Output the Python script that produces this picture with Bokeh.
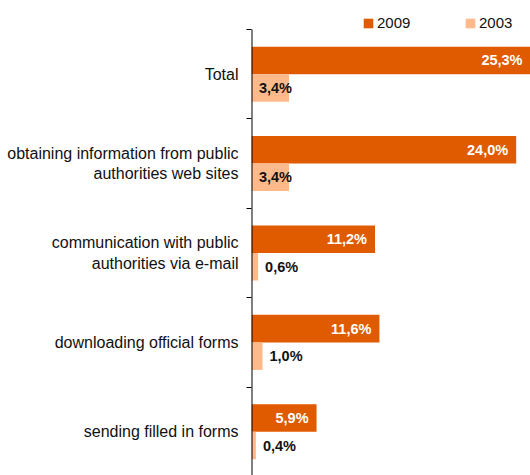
from bokeh.plotting import figure
from bokeh.models import (ColumnDataSource, Range1d, FixedTicker, Legend, LegendItem)
from bokeh.core.properties import value
from bokeh.embed import file_html
from bokeh.resources import INLINE

categories = [
    "Total",
    "obtaining information from public\nauthorities web sites",
    "communication with public\nauthorities via e-mail",
    "downloading official forms",
    "sending filled in forms",
]
values_2009 = [25.3, 24.0, 11.2, 11.6, 5.9]
values_2003 = [3.4, 3.4, 0.6, 1.0, 0.4]
series_names = ["2009", "2003"]

C2009 = "#E05A00"
C2003 = "#FFB98A"
FONT = "Liberation Sans"

n = len(categories)
centers = [i + 0.5 for i in range(n)]
bh = 0.308

def fmt(v):
    return f"{v:.1f}".replace(".", ",") + "%"

src09 = ColumnDataSource(dict(
    y=[c - bh / 2 for c in centers], v=values_2009,
    lab=[fmt(v) for v in values_2009]))
inside03 = [v >= 2 for v in values_2003]
src03_in = ColumnDataSource(dict(
    y=[c + bh / 2 for c, k in zip(centers, inside03) if k],
    v=[v for v, k in zip(values_2003, inside03) if k],
    lab=[fmt(v) for v, k in zip(values_2003, inside03) if k]))
src03_out = ColumnDataSource(dict(
    y=[c + bh / 2 for c, k in zip(centers, inside03) if not k],
    v=[v for v, k in zip(values_2003, inside03) if not k],
    lab=[fmt(v) for v, k in zip(values_2003, inside03) if not k]))
src03 = ColumnDataSource(dict(y=[c + bh / 2 for c in centers], v=values_2003))

p = figure(width=530, height=475, output_backend="svg", toolbar_location=None,
           x_range=Range1d(0, max(values_2009)), y_range=Range1d(n - 0.011, -0.324),
           x_axis_location=None, min_border_left=251, min_border_right=0,
           min_border_top=0, min_border_bottom=0)
p.outline_line_color = None
p.xgrid.visible = False
p.ygrid.visible = False

r09 = p.hbar(y="y", right="v", left=0, height=bh, color=C2009, line_color=None, source=src09)
r03 = p.hbar(y="y", right="v", left=0, height=bh, color=C2003, line_color=None, source=src03)

# category axis line (from first to last category boundary)
p.segment(x0=[0], y0=[0], x1=[0], y1=[n], line_color="black", line_width=2)

p.text(x="v", y="y", text="lab", source=src09, text_align="right", text_baseline="middle",
       x_offset=-8, text_color="white", text_font=value(FONT), text_font_style="bold",
       text_font_size="14.5px")
p.text(x="v", y="y", text="lab", source=src03_in, text_align="right", text_baseline="middle",
       x_offset=3, text_color="#111111", text_font=value(FONT), text_font_style="bold",
       text_font_size="14.5px")
p.text(x="v", y="y", text="lab", source=src03_out, text_align="left", text_baseline="middle",
       x_offset=7, text_color="#111111", text_font=value(FONT), text_font_style="bold",
       text_font_size="14.5px")

ax = p.yaxis[0]
ax.ticker = FixedTicker(ticks=centers, minor_ticks=list(range(n + 1)))
ax.major_label_overrides = {c: lab for c, lab in zip(centers, categories)}
ax.major_tick_line_color = None
ax.major_tick_out = 0
ax.major_tick_in = 0
ax.minor_tick_line_color = "black"
ax.minor_tick_out = 5
ax.minor_tick_in = 0
ax.axis_line_color = None
ax.major_label_standoff = 8
ax.major_label_text_font = FONT
ax.major_label_text_font_size = "16px"
ax.major_label_text_color = "#111111"

legend = Legend(items=[LegendItem(label=series_names[0], renderers=[r09]),
                       LegendItem(label=series_names[1], renderers=[r03])],
                orientation="horizontal", location=(111, 444),
                glyph_width=12, glyph_height=12, label_height=12, label_width=42,
                label_standoff=3, spacing=45, padding=5, margin=0,
                label_text_font=FONT, label_text_font_size="15px", label_text_color="#111111",
                border_line_color=None, background_fill_alpha=0)
p.add_layout(legend, "center")

open("out.html", "w").write(file_html(p, INLINE))
